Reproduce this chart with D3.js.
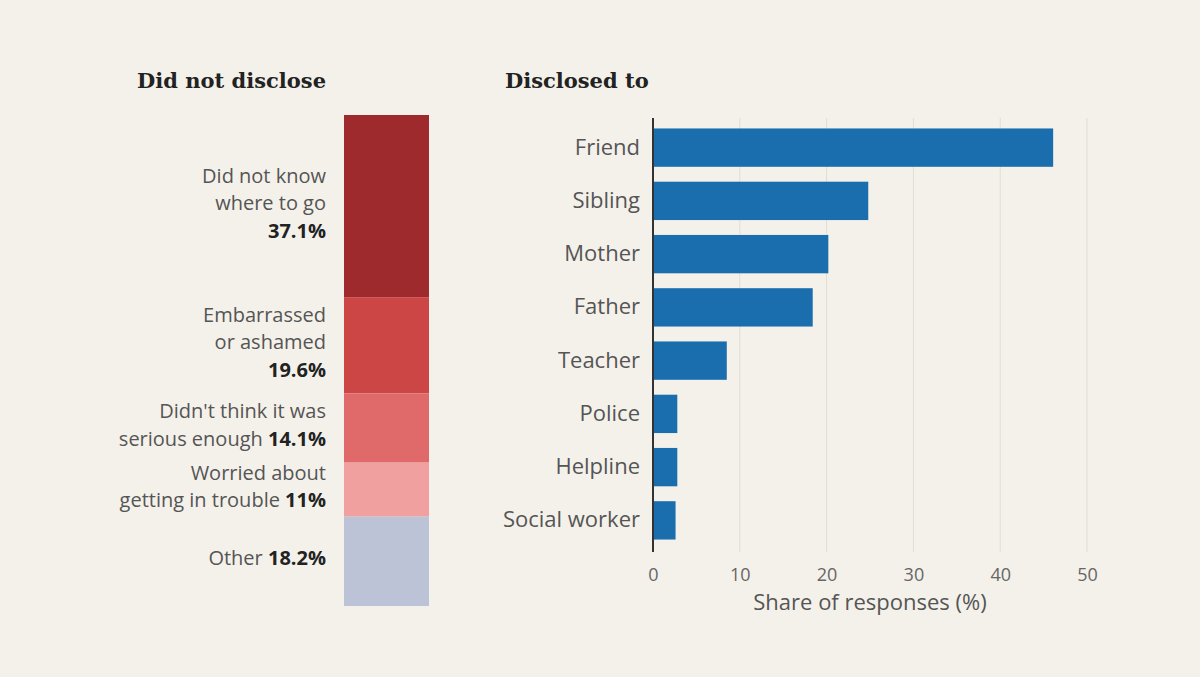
<!DOCTYPE html>
<html>
<head>
<meta charset="utf-8">
<script src="https://cdn.jsdelivr.net/npm/d3@7"></script>
<style>
  body { margin: 0; background: #f4f1ea; }
  svg { display: block; }
</style>
</head>
<body>
<div class="view"></div>
<script>
const w = 1200
const h = 677

// did not disclose (stacked)
const reasons = ['Did not know where to go', 'Embarrassed or ashamed', "Didn't think it was serious enough", 'Worried about getting in trouble', 'Other']
const reasonLines = [['Did not know', 'where to go'], ['Embarrassed', 'or ashamed'], ["Didn't think it was", 'serious enough'], ['Worried about', 'getting in trouble'], ['Other']]
const reasonValues = [37.1, 19.6, 14.1, 11, 18.2]
const reasonLabels = ['37.1%', '19.6%', '14.1%', '11%', '18.2%']
const reasonColors = ['#9e2a2d', '#cc4645', '#e06a69', '#f0a09f', '#bcc3d6']

// disclosed to
const people = ['Friend', 'Sibling', 'Mother', 'Father', 'Teacher', 'Police', 'Helpline', 'Social worker']
const shares = [46.1, 24.8, 20.2, 18.4, 8.5, 2.8, 2.8, 2.6]
const xTicks = [0, 10, 20, 30, 40, 50]

const svg = d3.select('.view')
    .append('svg')
    .attr('width', w)
    .attr('height', h)
    .style('background-color', '#f4f1ea')

const sans = '"Open Sans", Roboto, sans-serif'
const serif = '"DejaVu Serif", Georgia, serif'
const fs = 22

// titles
svg.append('text')
    .attr('x', 326).attr('y', 88)
    .attr('text-anchor', 'end')
    .attr('font-family', serif).attr('font-weight', 'bold').attr('font-size', 21)
    .attr('fill', '#222')
    .text('Did not disclose')

svg.append('text')
    .attr('x', 505).attr('y', 88)
    .attr('font-family', serif).attr('font-weight', 'bold').attr('font-size', 21)
    .attr('fill', '#222')
    .text('Disclosed to')

// ---- stacked bar
const total = d3.sum(reasonValues)
const yStack = d3.scaleLinear().domain([0, total]).range([115, 606])
let acc = 0
const stack = reasonValues.map((v, i) => {
    const s = { i: i, y0: acc, y1: acc + v }
    acc += v
    return s
})

svg.append('g')
    .selectAll('rect')
    .data(stack)
    .enter()
    .append('rect')
    .attr('x', 344)
    .attr('width', 85)
    .attr('y', d => yStack(d.y0))
    .attr('height', d => yStack(d.y1) - yStack(d.y0))
    .attr('fill', d => reasonColors[d.i])

const lh = 27.5
const labelG = svg.append('g')
    .attr('font-family', sans).attr('font-size', 20)
stack.forEach(d => {
    let lines = reasonLines[d.i].map(t => ({ t: t, pct: null }))
    // longer labels get the percentage on the last line, short ones on its own line
    if (d.i >= 2) lines[lines.length - 1].pct = reasonLabels[d.i]
    else lines.push({ t: '', pct: reasonLabels[d.i] })
    const cy = (yStack(d.y0) + yStack(d.y1)) / 2
    const top = cy - (lines.length - 1) * lh / 2 - 3
    lines.forEach((l, j) => {
        const t = labelG.append('text')
            .attr('x', 326)
            .attr('y', top + j * lh)
            .attr('dy', '0.35em')
            .attr('text-anchor', 'end')
            .attr('fill', '#555')
        t.append('tspan').text(l.t + (l.pct && l.t ? ' ' : ''))
        if (l.pct) t.append('tspan').attr('font-weight', 'bold').attr('fill', '#222').text(l.pct)
    })
})

// ---- horizontal bars
const xScale = d3.scaleLinear().domain([0, 50]).range([653, 1087])
const yScale = d3.scaleBand().domain(people).range([121, 547]).paddingInner(0.28).paddingOuter(0.14)

svg.append('g')
    .selectAll('line')
    .data(xTicks.slice(1))
    .enter()
    .append('line')
    .attr('x1', d => xScale(d)).attr('x2', d => xScale(d))
    .attr('y1', 118).attr('y2', 552)
    .attr('stroke', '#e2ddd3')
    .attr('stroke-width', 1)

svg.append('g')
    .selectAll('rect')
    .data(shares)
    .enter()
    .append('rect')
    .attr('x', xScale(0))
    .attr('y', (d, i) => yScale(people[i]))
    .attr('height', yScale.bandwidth())
    .attr('width', d => xScale(d) - xScale(0))
    .attr('fill', '#1a6ead')

const xAxis = d3.axisBottom(xScale).tickValues(xTicks).tickSize(0).tickPadding(0)
svg.append('g')
    .attr('class', 'x-axis')
    .attr('transform', 'translate(0,568)')
    .call(xAxis)
    .call(g => g.select('.domain').remove())
    .selectAll('text')
    .attr('font-family', sans).attr('font-size', 18).attr('fill', '#666')

const yAxis = d3.axisLeft(yScale).tickSize(0).tickPadding(13)
svg.append('g')
    .attr('class', 'y-axis')
    .attr('transform', 'translate(' + xScale(0) + ',0)')
    .call(yAxis)
    .call(g => g.select('.domain').remove())
    .selectAll('text')
    .attr('font-family', sans).attr('font-size', fs).attr('fill', '#555')

svg.append('line')
    .attr('x1', xScale(0)).attr('x2', xScale(0))
    .attr('y1', 118).attr('y2', 552)
    .attr('stroke', '#333').attr('stroke-width', 2)

svg.append('text')
    .attr('x', (xScale(0) + xScale(50)) / 2)
    .attr('y', 610)
    .attr('text-anchor', 'middle')
    .attr('font-family', sans).attr('font-size', fs).attr('fill', '#555')
    .text('Share of responses (%)')
</script>
</body>
</html>
